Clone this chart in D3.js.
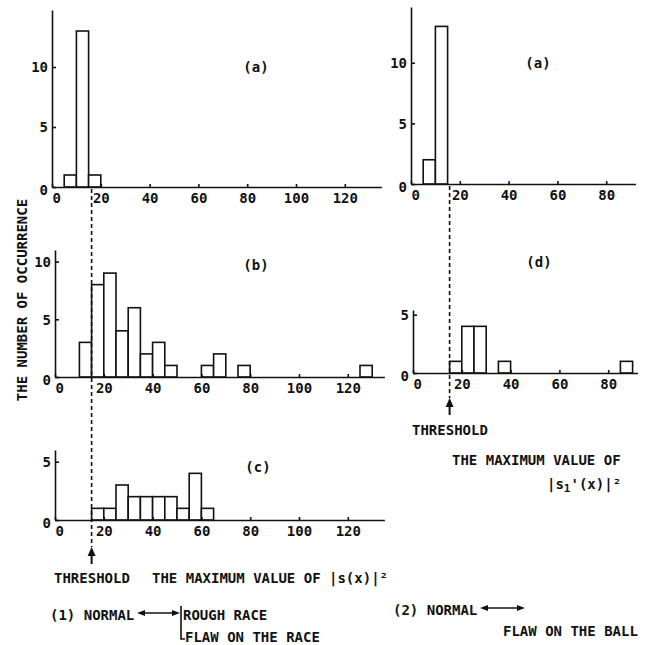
<!DOCTYPE html>
<html lang="en">
<head>
<meta charset="UTF-8">
<title>Histograms of maximum value</title>
<script src="https://d3js.org/d3.v7.min.js"></script>
<style>
    body { margin: 0; background: #fff; }
    svg text { font-family: 'DejaVu Sans Mono', monospace; fill: #111; }
    .axis path, .axis line { stroke: #111; stroke-width: 1.6; }
    .axis text { font-size: 14px; font-weight: bold; }
</style>
</head>
<body>
<div id="chart"></div>
<script>
    // bin width of every histogram
    const binWidth = 5;
    const threshold = 15;

    // (1) left column
    const aLeftBins = [5, 10, 15];
    const aLeftCounts = [1, 13, 1];
    const bBins = [10, 15, 20, 25, 30, 35, 40, 45, 60, 65, 75, 125];
    const bCounts = [3, 8, 9, 4, 6, 2, 3, 1, 1, 2, 1, 1];
    const cBins = [15, 20, 25, 30, 35, 40, 45, 50, 55, 60];
    const cCounts = [1, 1, 3, 2, 2, 2, 2, 1, 4, 1];

    // (2) right column
    const aRightBins = [5, 10];
    const aRightCounts = [2, 13];
    const dBins = [15, 20, 25, 35, 85];
    const dCounts = [1, 4, 4, 1, 1];

    const leftXTicks = [0, 20, 40, 60, 80, 100, 120];
    const rightXTicks = [0, 20, 40, 60, 80];
    const yTicksBig = [0, 5, 10];
    const yTicksSmall = [0, 5];

    const svg = d3.select('#chart').append('svg')
        .attr('width', 648)
        .attr('height', 645);

    // panel layout (pixels)
    const panels = [
        { bins: aLeftBins, counts: aLeftCounts, label: '(a)', xMax: 135, yMax: 14.75,
          left: 52, unit: 2.44, base: 187, top: 10, xTicks: leftXTicks, yTicks: yTicksBig, lx: 256, ly: 72 },
        { bins: bBins, counts: bCounts, label: '(b)', xMax: 135, yMax: 11,
          left: 55, unit: 2.44, base: 377, top: 250, xTicks: leftXTicks, yTicks: yTicksBig, lx: 256, ly: 270 },
        { bins: cBins, counts: cCounts, label: '(c)', xMax: 135, yMax: 6,
          left: 55, unit: 2.44, base: 520, top: 450, xTicks: leftXTicks, yTicks: yTicksSmall, lx: 258, ly: 472 },
        { bins: aRightBins, counts: aRightCounts, label: '(a)', xMax: 92, yMax: 14.6,
          left: 411, unit: 2.44, base: 184, top: 7, xTicks: rightXTicks, yTicks: yTicksBig, lx: 538, ly: 68 },
        { bins: dBins, counts: dCounts, label: '(d)', xMax: 92, yMax: 5.4,
          left: 413, unit: 2.44, base: 373, top: 310, xTicks: rightXTicks, yTicks: yTicksSmall, lx: 539, ly: 267 }
    ];

    panels.forEach(p => {
        p.x = d3.scaleLinear().domain([0, p.xMax]).range([p.left, p.left + p.xMax * p.unit]);
        p.y = d3.scaleLinear().domain([0, p.yMax]).range([p.base, p.top]);

        const g = svg.append('g');

        // bars
        g.selectAll('rect')
            .data(p.bins.map((b, i) => ({ start: b, count: p.counts[i] })))
            .enter().append('rect')
            .attr('x', d => p.x(d.start))
            .attr('y', d => p.y(d.count))
            .attr('width', d => p.x(d.start + binWidth) - p.x(d.start))
            .attr('height', d => p.y(0) - p.y(d.count))
            .attr('fill', '#fff')
            .attr('stroke', '#111')
            .attr('stroke-width', 1.6);

        // x axis, ticks pointing up
        const xAxis = g.append('g')
            .attr('class', 'axis')
            .attr('transform', `translate(0,${p.base})`)
            .call(d3.axisBottom(p.x).tickValues(p.xTicks).tickFormat(d3.format('d'))
                .tickSizeInner(-3).tickSizeOuter(0).tickPadding(6));
        xAxis.selectAll('.tick text').filter(d => d === 0)
            .attr('text-anchor', 'start').attr('x', 0);

        // y axis, ticks pointing right
        g.append('g')
            .attr('class', 'axis')
            .attr('transform', `translate(${p.left},0)`)
            .call(d3.axisLeft(p.y).tickValues(p.yTicks).tickFormat(d3.format('d'))
                .tickSizeInner(-4).tickSizeOuter(0).tickPadding(4))
            .selectAll('.tick text').attr('dy', d => d === 0 ? '0.55em' : '0.35em');

        g.append('text')
            .attr('x', p.lx).attr('y', p.ly)
            .attr('text-anchor', 'middle')
            .style('font-size', '14px').style('font-weight', 'bold')
            .text(p.label);
    });

    // threshold markers
    function thresholdLine(px, yFrom, yTip) {
        svg.append('line')
            .attr('x1', px).attr('x2', px)
            .attr('y1', yFrom).attr('y2', yTip)
            .attr('stroke', '#111').attr('stroke-width', 1.6)
            .attr('stroke-dasharray', '4,3');
        svg.append('line')
            .attr('x1', px).attr('x2', px)
            .attr('y1', yTip + 6).attr('y2', yTip + 17)
            .attr('stroke', '#111').attr('stroke-width', 2);
        svg.append('path')
            .attr('d', `M${px},${yTip} L${px - 4},${yTip + 9} L${px + 4},${yTip + 9} Z`)
            .attr('fill', '#111');
    }
    thresholdLine(panels[1].x(threshold), panels[0].base + 2, 547);
    thresholdLine(panels[4].x(threshold), panels[3].base + 2, 398);

    // captions
    const caption = (x, y, str) => svg.append('text')
        .attr('x', x).attr('y', y)
        .style('font-size', '14px').style('font-weight', 'bold')
        .text(str);

    caption(0, 0, 'THE NUMBER OF OCCURRENCE')
        .attr('text-anchor', 'middle')
        .attr('transform', 'translate(27,300) rotate(-90)');

    caption(54, 583, 'THRESHOLD');
    caption(152, 583, 'THE MAXIMUM VALUE OF |s(x)|²');
    caption(50, 620, '(1) NORMAL');
    caption(183, 620, 'ROUGH RACE');
    caption(185, 642, 'FLAW ON THE RACE');

    caption(412, 435, 'THRESHOLD');
    caption(452, 465, 'THE MAXIMUM VALUE OF');
    const s1 = caption(547, 489, '|s');
    s1.append('tspan').attr('dy', 3).style('font-size', '11px').text('1');
    s1.append('tspan').attr('dy', -3).text("'(x)|²");
    caption(393, 615, '(2) NORMAL');
    caption(503, 636, 'FLAW ON THE BALL');

    // double arrows
    function doubleArrow(x1, x2, y) {
        svg.append('line')
            .attr('x1', x1 + 6).attr('x2', x2 - 6)
            .attr('y1', y).attr('y2', y)
            .attr('stroke', '#111').attr('stroke-width', 1.5);
        svg.append('path')
            .attr('d', `M${x1},${y} L${x1 + 8},${y - 3} L${x1 + 8},${y + 3} Z M${x2},${y} L${x2 - 8},${y - 3} L${x2 - 8},${y + 3} Z`)
            .attr('fill', '#111');
    }
    doubleArrow(137, 180, 613);
    svg.append('path')
        .attr('d', 'M181,606 L181,639 L185,639')
        .attr('fill', 'none').attr('stroke', '#111').attr('stroke-width', 1.6);
    doubleArrow(480, 525, 608);
</script>
</body>
</html>
